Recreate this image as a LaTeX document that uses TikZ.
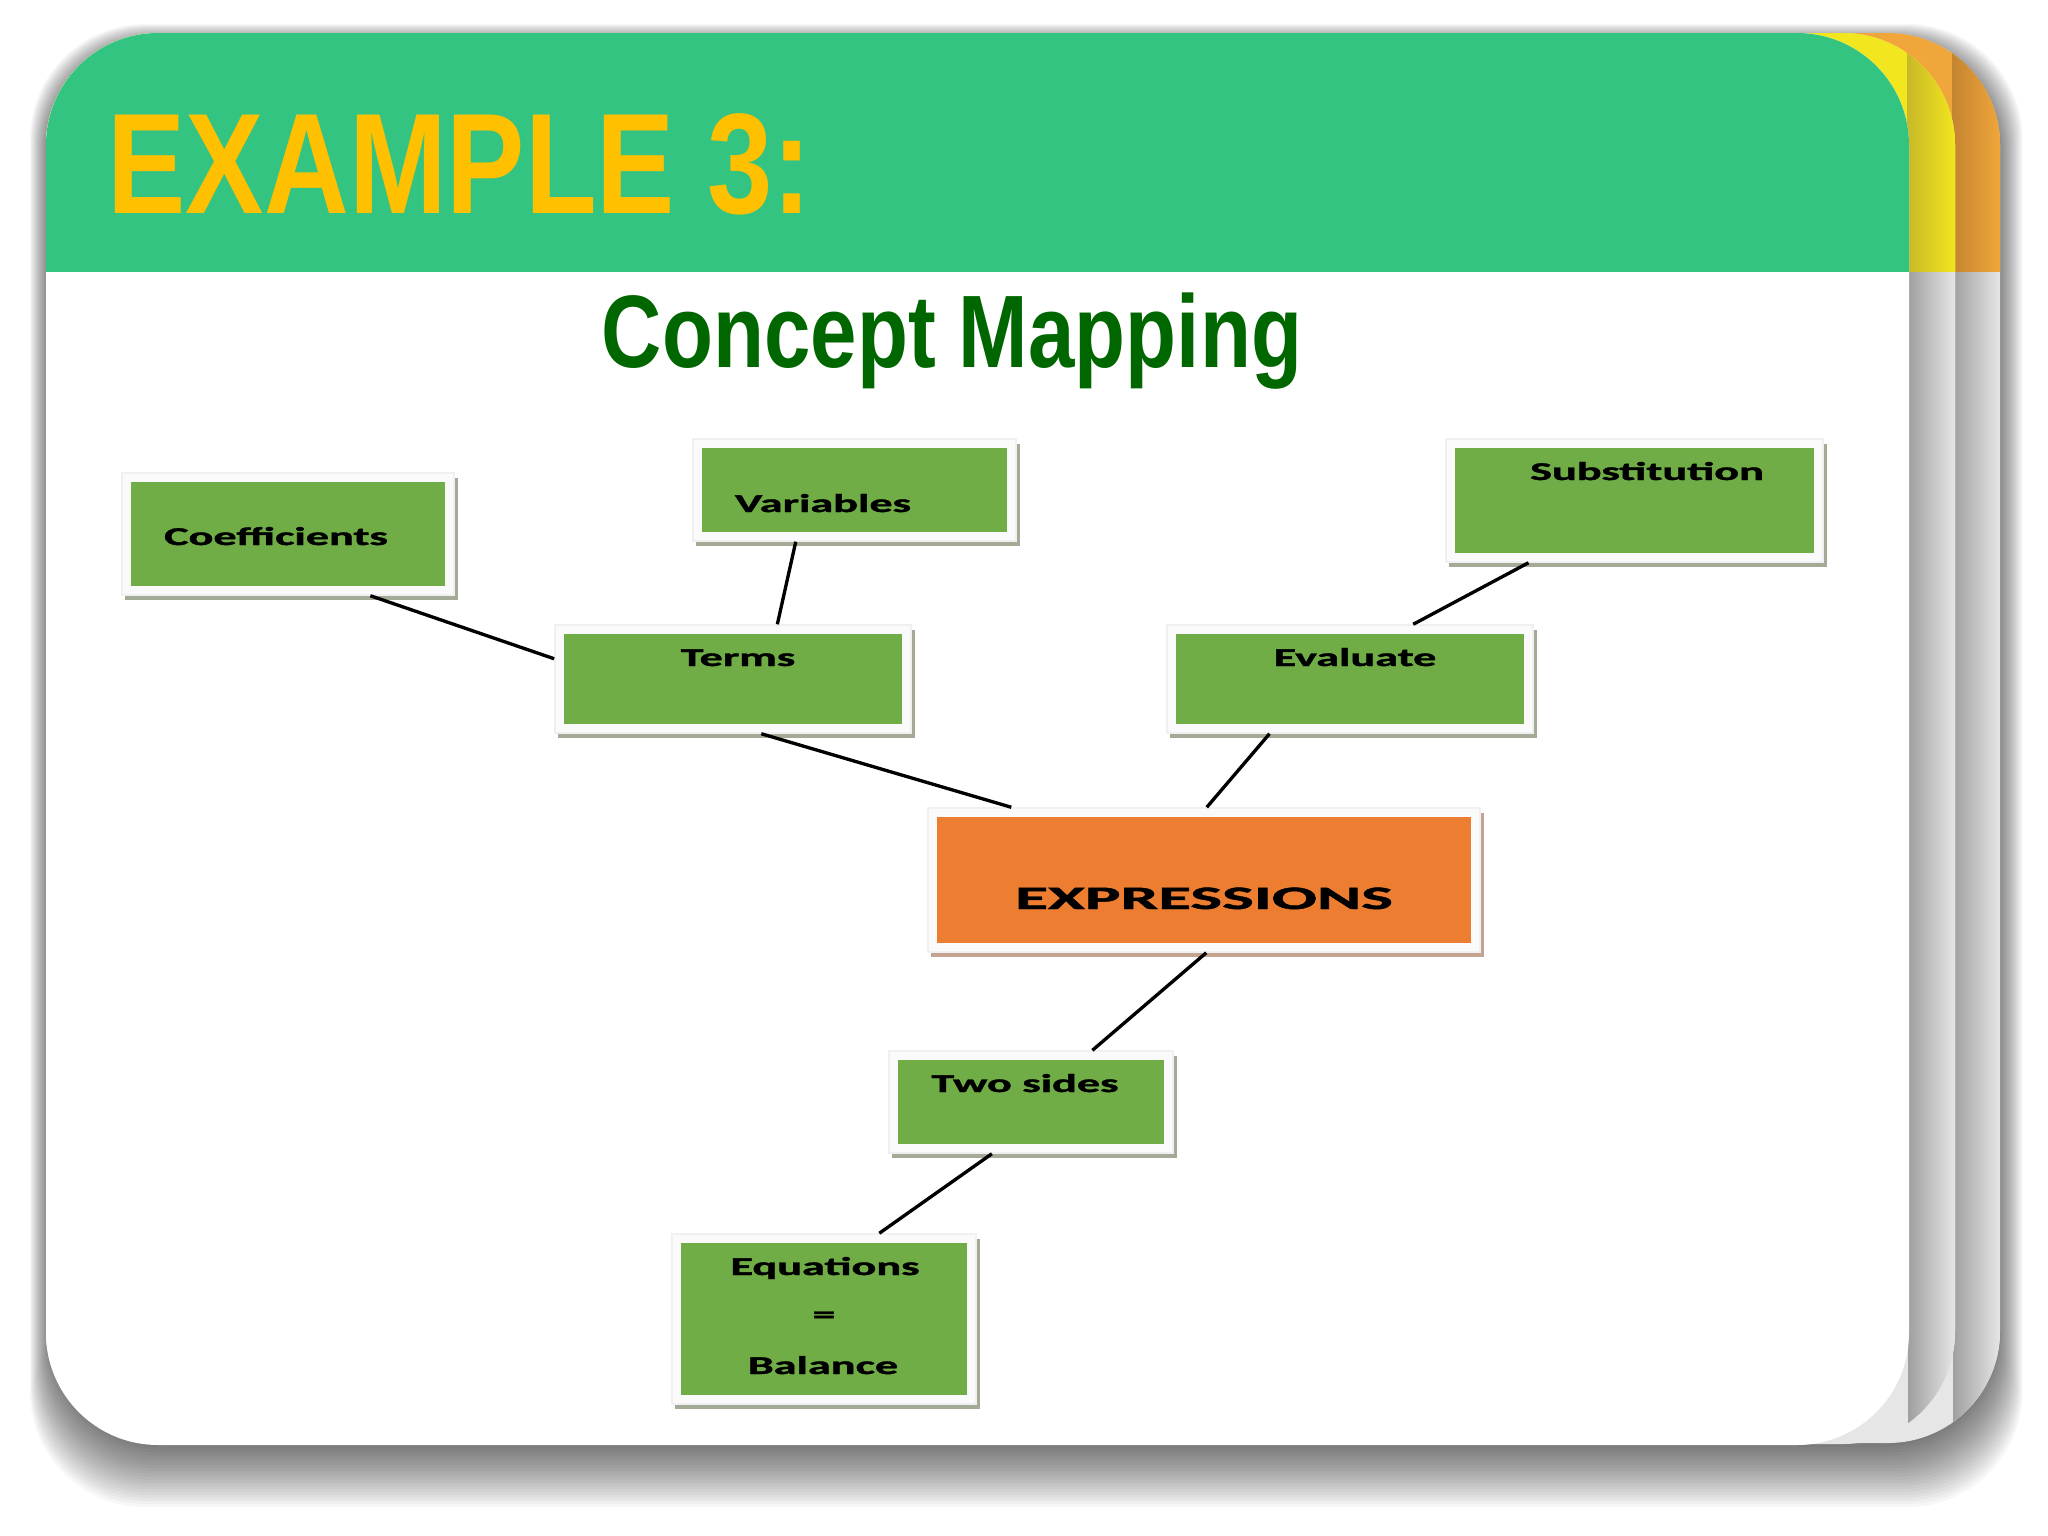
\documentclass[tikz,border=0pt]{standalone}
\usepackage{fontspec}
\usepackage{graphicx}
\usetikzlibrary{calc,shadows}
\newfontfamily\headfont{Liberation Sans}
\newfontfamily\lblfont{Carlito}[BoldFeatures={FakeBold=1.2}]
\definecolor{hdrgreen}{RGB}{51,196,130}
\definecolor{ttlyellow}{RGB}{255,192,0}
\definecolor{subgreen}{RGB}{0,102,0}
\definecolor{boxgreen}{RGB}{112,173,71}
\definecolor{boxorange}{RGB}{237,125,49}
\definecolor{gshadow}{RGB}{163,170,150}
\definecolor{oshadow}{RGB}{196,164,144}
\definecolor{yel}{RGB}{242,230,30}
\definecolor{yeldark}{RGB}{200,185,40}
\definecolor{org}{RGB}{240,166,58}
\definecolor{orgdark}{RGB}{196,132,48}
\definecolor{pgdark}{RGB}{160,160,160}
\definecolor{pglight}{RGB}{230,230,230}
\begin{document}
\begin{tikzpicture}[x=0.01cm,y=-0.01cm,
  frame/.style={draw=black!6, fill=black!2, line width=0.4pt, inner sep=0pt,
    drop shadow={shadow xshift=0.035cm,shadow yshift=-0.05cm,fill=gshadow,opacity=1}},
  oframe/.style={frame, drop shadow={shadow xshift=0.035cm,shadow yshift=-0.05cm,fill=oshadow,opacity=1}},
  gbox/.style={fill=boxgreen, draw=none, inner sep=0pt},
  obox/.style={fill=boxorange, draw=none, inner sep=0pt},
  lbl/.style={inner sep=0pt, anchor=base, font=\lblfont\bfseries\fontsize{7.3}{9}\selectfont},
  conn/.style={draw=black, line width=0.95pt},
  page/.style={rounded corners=1.12cm}]
\useasboundingbox (0,0) rectangle (2048,1536);
\fill[white] (0,0) rectangle (2048,1536);
% soft shadow of the card stack
\foreach \i in {1,...,22}
  \fill[black,opacity=0.03,rounded corners=1.15cm] (52-\i*1.0,46-\i*1.0) rectangle (1994+\i*1.3,1441+\i*3);
% back page (orange)
\begin{scope}
  \clip[page] (46,33) rectangle (2000,1443);
  \fill[pglight] (0,0) rectangle (2048,1536);
  \fill[org] (0,0) rectangle (2048,272);
  \shade[left color=orgdark, right color=org] (1952,0) rectangle (2000,272);
  \shade[left color=pgdark, right color=pglight] (1953,272) rectangle (2000,1536);
\end{scope}
% middle page (yellow)
\begin{scope}
  \clip[page] (46,33) rectangle (1955,1444);
  \fill[pglight] (0,0) rectangle (2048,1536);
  \fill[yel] (0,0) rectangle (2048,272);
  \shade[left color=yeldark, right color=yel] (1907,0) rectangle (1955,272);
  \shade[left color=pgdark, right color=pglight] (1908,272) rectangle (1955,1536);
\end{scope}
% front page
\begin{scope}
  \clip[page] (46,33) rectangle (1909,1445);
  \fill[white] (0,0) rectangle (2048,1536);
  \fill[hdrgreen] (0,0) rectangle (2048,272);
\end{scope}
% titles
\node[anchor=base west, inner sep=0pt, text=ttlyellow,
  font=\headfont\bfseries\fontsize{40.7}{44}\selectfont] (title) at (107,213)
  {\scalebox{0.82}[1]{EXAMPLE 3:}};
\node[anchor=base, inner sep=0pt, text=subgreen,
  font=\headfont\bfseries\fontsize{29.3}{32}\selectfont] (subtitle) at (952,367)
  {\scalebox{0.81}[1]{Concept Mapping}};
% boxes: frames
\node[frame, minimum width=3.32cm, minimum height=1.22cm] (coefF) at (288,534) {};
\node[frame, minimum width=3.23cm, minimum height=1.02cm] (varF) at (854.5,490) {};
\node[frame, minimum width=3.56cm, minimum height=1.08cm] (termsF) at (733,679) {};
\node[frame, minimum width=3.77cm, minimum height=1.23cm] (substF) at (1634.5,500.5) {};
\node[frame, minimum width=3.66cm, minimum height=1.08cm] (evalF) at (1350,679) {};
\node[oframe, minimum width=5.52cm, minimum height=1.44cm] (exprF) at (1204,880) {};
\node[frame, minimum width=2.84cm, minimum height=1.02cm] (twoF) at (1031,1102) {};
\node[frame, minimum width=3.04cm, minimum height=1.70cm] (eqF) at (824,1319) {};
% boxes: fills
\node[gbox, minimum width=3.14cm, minimum height=1.04cm] (coef) at (288,534) {};
\node[gbox, minimum width=3.05cm, minimum height=0.84cm] (var) at (854.5,490) {};
\node[gbox, minimum width=3.38cm, minimum height=0.90cm] (terms) at (733,679) {};
\node[gbox, minimum width=3.59cm, minimum height=1.05cm] (subst) at (1634.5,500.5) {};
\node[gbox, minimum width=3.48cm, minimum height=0.90cm] (eval) at (1350,679) {};
\node[obox, minimum width=5.34cm, minimum height=1.26cm] (expr) at (1204,880) {};
\node[gbox, minimum width=2.66cm, minimum height=0.84cm] (two) at (1031,1102) {};
\node[gbox, minimum width=2.86cm, minimum height=1.52cm] (eq) at (824,1319) {};
% labels
\node[lbl] (tcoef) at (276,545) {\scalebox{1.8}[1]{Coefficients}};
\node[lbl] (tvar) at (823,512) {\scalebox{1.8}[1]{Variables}};
\node[lbl] (tterms) at (738,666) {\scalebox{1.8}[1]{Terms}};
\node[lbl] (tsubst) at (1647,480) {\scalebox{1.8}[1]{Substitution}};
\node[lbl] (teval) at (1355,666) {\scalebox{1.8}[1]{Evaluate}};
\node[lbl, font=\lblfont\bfseries\fontsize{9.3}{11}\selectfont] (texpr) at (1204,909) {\scalebox{2.05}[1]{EXPRESSIONS}};
\node[lbl] (ttwo) at (1025,1092) {\scalebox{1.8}[1]{Two sides}};
\node[lbl] (teq1) at (825,1275) {\scalebox{1.8}[1]{Equations}};
\node[lbl] (teq2) at (824,1323) {\scalebox{1.8}[1]{=}};
\node[lbl] (teq3) at (823,1374) {\scalebox{1.8}[1]{Balance}};
% connectors
\draw[conn] ($(coefF.south west)!0.747!(coefF.south east)$) -- ($(termsF.north west)!0.315!(termsF.south west)$);
\draw[conn] ($(varF.south west)!0.319!(varF.south east)$) -- ($(termsF.north west)!0.624!(termsF.north east)$);
\draw[conn] ($(termsF.south west)!0.579!(termsF.south east)$) -- ($(exprF.north west)!0.152!(exprF.north east)$);
\draw[conn] ($(substF.south west)!0.220!(substF.south east)$) -- ($(evalF.north west)!0.672!(evalF.north east)$);
\draw[conn] ($(evalF.south west)!0.281!(evalF.south east)$) -- ($(exprF.north west)!0.505!(exprF.north east)$);
\draw[conn] ($(exprF.south west)!0.504!(exprF.south east)$) -- ($(twoF.north west)!0.715!(twoF.north east)$);
\draw[conn] ($(twoF.south west)!0.363!(twoF.south east)$) -- ($(eqF.north west)!0.681!(eqF.north east)$);
\end{tikzpicture}
\end{document}
